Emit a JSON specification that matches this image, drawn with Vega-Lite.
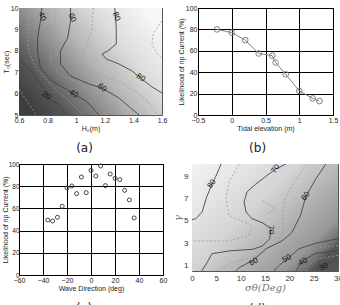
{
  "$schema": "https://vega.github.io/schema/vega-lite/v6.json",
  "padding": {"left": 0, "top": 3, "right": 0, "bottom": 0},
  "background": "white",
  "spacing": 5,
  "datasets": {
    "contA": [
      {"lev":10,"i":0,"h":0.6,"t":6.2},{"lev":10,"i":1,"h":0.66,"t":5.6},{"lev":10,"i":2,"h":0.72,"t":5.0},
      {"lev":20,"i":0,"h":0.6,"t":7.66},{"lev":20,"i":1,"h":0.69,"t":7.06},{"lev":20,"i":2,"h":0.76,"t":6.36},{"lev":20,"i":3,"h":0.79,"t":5.89},{"lev":20,"i":4,"h":0.87,"t":5.51},{"lev":20,"i":5,"h":0.94,"t":5.0},
      {"lev":30,"i":0,"h":0.67,"t":10},{"lev":30,"i":1,"h":0.66,"t":8.9},{"lev":30,"i":2,"h":0.67,"t":8.0},{"lev":30,"i":3,"h":0.71,"t":7.29},{"lev":30,"i":4,"h":0.81,"t":6.5},{"lev":30,"i":5,"h":0.91,"t":5.89},{"lev":30,"i":6,"h":1.05,"t":5.0},
      {"lev":40,"i":0,"h":0.76,"t":10},{"lev":40,"i":1,"h":0.75,"t":9.39},{"lev":40,"i":2,"h":0.73,"t":8.6},{"lev":40,"i":3,"h":0.73,"t":7.99},{"lev":40,"i":4,"h":0.75,"t":7.2},{"lev":40,"i":5,"h":0.83,"t":6.59},{"lev":40,"i":6,"h":0.93,"t":6.21},{"lev":40,"i":7,"h":0.98,"t":5.98},{"lev":40,"i":8,"h":1.07,"t":5.65},{"lev":40,"i":9,"h":1.16,"t":5.0},
      {"lev":50,"i":0,"h":0.86,"t":10},{"lev":50,"i":1,"h":0.84,"t":8.93},{"lev":50,"i":2,"h":0.82,"t":8.08},{"lev":50,"i":3,"h":0.82,"t":7.43},{"lev":50,"i":4,"h":0.88,"t":6.92},{"lev":50,"i":5,"h":1.01,"t":6.5},{"lev":50,"i":6,"h":1.12,"t":6.12},{"lev":50,"i":7,"h":1.23,"t":5.65},{"lev":50,"i":8,"h":1.31,"t":5.0},
      {"lev":60,"i":0,"h":0.96,"t":10},{"lev":60,"i":1,"h":0.96,"t":9.39},{"lev":60,"i":2,"h":0.94,"t":8.6},{"lev":60,"i":3,"h":0.89,"t":7.99},{"lev":60,"i":4,"h":0.89,"t":7.38},{"lev":60,"i":5,"h":0.96,"t":6.82},{"lev":60,"i":6,"h":1.09,"t":6.45},{"lev":60,"i":7,"h":1.18,"t":6.26},{"lev":60,"i":8,"h":1.30,"t":5.79},{"lev":60,"i":9,"h":1.38,"t":5.33},{"lev":60,"i":10,"h":1.44,"t":5.0},
      {"lev":70,"i":0,"h":1.12,"t":10},{"lev":70,"i":1,"h":1.11,"t":8.93},{"lev":70,"i":2,"h":1.07,"t":8.22},{"lev":70,"i":3,"h":1.04,"t":7.66},{"lev":70,"i":4,"h":1.05,"t":7.2},{"lev":70,"i":5,"h":1.16,"t":6.87},{"lev":70,"i":6,"h":1.29,"t":6.59},{"lev":70,"i":7,"h":1.39,"t":6.21},{"lev":70,"i":8,"h":1.50,"t":5.65},{"lev":70,"i":9,"h":1.57,"t":5.0},
      {"lev":80,"i":0,"h":1.27,"t":10},{"lev":80,"i":1,"h":1.28,"t":9.07},{"lev":80,"i":2,"h":1.28,"t":8.32},{"lev":80,"i":3,"h":1.22,"t":7.99},{"lev":80,"i":4,"h":1.18,"t":7.85},{"lev":80,"i":5,"h":1.21,"t":7.62},{"lev":80,"i":6,"h":1.30,"t":7.38},{"lev":80,"i":7,"h":1.39,"t":7.06},{"lev":80,"i":8,"h":1.45,"t":6.73},{"lev":80,"i":9,"h":1.53,"t":6.31},{"lev":80,"i":10,"h":1.6,"t":6.03},
      {"lev":90,"i":0,"h":1.6,"t":9.4},{"lev":90,"i":1,"h":1.54,"t":8.83},{"lev":90,"i":2,"h":1.53,"t":8.32},{"lev":90,"i":3,"h":1.56,"t":7.9},{"lev":90,"i":4,"h":1.6,"t":7.66}
    ],
    "labA": [
      {"lev":40,"h":0.76,"t":9.6},{"lev":60,"h":0.97,"t":9.55},{"lev":80,"h":1.28,"t":9.6},
      {"lev":20,"h":0.79,"t":5.89},{"lev":40,"h":0.98,"t":5.98},{"lev":60,"h":1.18,"t":6.26},{"lev":80,"h":1.45,"t":6.73}
    ],
    "contD": [
      {"lev":80,"i":0,"s":6.0,"g":10.1},{"lev":80,"i":1,"s":4.9,"g":9.0},{"lev":80,"i":2,"s":4.1,"g":8.3},{"lev":80,"i":3,"s":2.9,"g":7.0},{"lev":80,"i":4,"s":2.1,"g":5.8},{"lev":80,"i":5,"s":0.8,"g":5.2},{"lev":80,"i":6,"s":0,"g":5.1},
      {"lev":75,"i":0,"s":9.7,"g":10.1},{"lev":75,"i":1,"s":7.6,"g":8.5},{"lev":75,"i":2,"s":7.0,"g":7.0},{"lev":75,"i":3,"s":7.6,"g":5.5},{"lev":75,"i":4,"s":12.3,"g":4.6},{"lev":75,"i":5,"s":11.7,"g":3.7},{"lev":75,"i":6,"s":7.6,"g":3.2},{"lev":75,"i":7,"s":0,"g":3.2},
      {"lev":76,"i":0,"s":14.5,"g":6.8},{"lev":76,"i":1,"s":17.3,"g":6.1},{"lev":76,"i":2,"s":15.0,"g":5.5},
      {"lev":70,"i":0,"s":19.3,"g":10.1},{"lev":70,"i":1,"s":17.2,"g":9.65},{"lev":70,"i":2,"s":15.2,"g":9.0},{"lev":70,"i":3,"s":13.1,"g":8.3},{"lev":70,"i":4,"s":11.3,"g":7.6},{"lev":70,"i":5,"s":10.7,"g":6.7},{"lev":70,"i":6,"s":11.1,"g":5.8},{"lev":70,"i":7,"s":12.3,"g":5.2},{"lev":70,"i":8,"s":14.6,"g":4.8},{"lev":70,"i":9,"s":16.2,"g":4.3},{"lev":70,"i":10,"s":16.0,"g":3.4},{"lev":70,"i":11,"s":14.5,"g":2.75},{"lev":70,"i":12,"s":12.5,"g":2.45},{"lev":70,"i":13,"s":7.6,"g":2.3},{"lev":70,"i":14,"s":4.1,"g":2.05},{"lev":70,"i":15,"s":3.1,"g":1.25},{"lev":70,"i":16,"s":2.0,"g":0.5},
      {"lev":65,"i":0,"s":23.5,"g":10.1},{"lev":65,"i":1,"s":21,"g":8.5},{"lev":65,"i":2,"s":19.2,"g":7.0},{"lev":65,"i":3,"s":18.6,"g":5.5},{"lev":65,"i":4,"s":18.8,"g":4.2},{"lev":65,"i":5,"s":17.5,"g":3.0},{"lev":65,"i":6,"s":14,"g":2.0},{"lev":65,"i":7,"s":8,"g":1.2},{"lev":65,"i":8,"s":5,"g":0.5},
      {"lev":60,"i":0,"s":27.5,"g":10.1},{"lev":60,"i":1,"s":25.5,"g":8.8},{"lev":60,"i":2,"s":23.4,"g":7.2},{"lev":60,"i":3,"s":22.3,"g":5.5},{"lev":60,"i":4,"s":20.5,"g":3.94},{"lev":60,"i":5,"s":18.5,"g":3.2},{"lev":60,"i":6,"s":15.2,"g":2.5},{"lev":60,"i":7,"s":12.7,"g":1.5},{"lev":60,"i":8,"s":9.7,"g":0.8},{"lev":60,"i":9,"s":9.0,"g":0.5},
      {"lev":55,"i":0,"s":30,"g":5.0},{"lev":55,"i":1,"s":26,"g":4.0},{"lev":55,"i":2,"s":22,"g":3.2},{"lev":55,"i":3,"s":18,"g":2.2},{"lev":55,"i":4,"s":14.5,"g":1.0},{"lev":55,"i":5,"s":13.5,"g":0.5},
      {"lev":50,"i":0,"s":30,"g":3.4},{"lev":50,"i":1,"s":25.5,"g":3.0},{"lev":50,"i":2,"s":22,"g":2.5},{"lev":50,"i":3,"s":19.9,"g":1.7},{"lev":50,"i":4,"s":17.9,"g":1.0},{"lev":50,"i":5,"s":16.8,"g":0.5},
      {"lev":45,"i":0,"s":30,"g":2.8},{"lev":45,"i":1,"s":25,"g":2.5},{"lev":45,"i":2,"s":22,"g":1.8},{"lev":45,"i":3,"s":20,"g":0.9},{"lev":45,"i":4,"s":19,"g":0.5},
      {"lev":40,"i":0,"s":30,"g":2.3},{"lev":40,"i":1,"s":25.5,"g":2.1},{"lev":40,"i":2,"s":23.4,"g":1.6},{"lev":40,"i":3,"s":22,"g":1.0},{"lev":40,"i":4,"s":21.4,"g":0.5},
      {"lev":35,"i":0,"s":30,"g":1.9},{"lev":35,"i":1,"s":26,"g":1.6},{"lev":35,"i":2,"s":24,"g":1.0},{"lev":35,"i":3,"s":23.5,"g":0.5},
      {"lev":30,"i":0,"s":30,"g":1.6},{"lev":30,"i":1,"s":28.1,"g":1.25},{"lev":30,"i":2,"s":26,"g":0.7},{"lev":30,"i":3,"s":25.5,"g":0.5}
    ],
    "labD": [
      {"lev":80,"s":4.1,"g":8.3},{"lev":70,"s":17.2,"g":9.65},{"lev":60,"s":23.4,"g":7.2},
      {"lev":70,"s":16.3,"g":4.2},
      {"lev":60,"s":12.7,"g":1.3},{"lev":50,"s":19.5,"g":1.6},{"lev":40,"s":22.8,"g":1.3},{"lev":30,"s":27.1,"g":0.85}
    ]
  },
  "vconcat": [
    {
      "hconcat": [
        {
          "width": 143, "height": 107,
          "title": {"text": "(a)"},
          "view": {"stroke": "#555"},
          "encoding": {
            "x": {"field": "h", "type": "quantitative", "scale": {"domain": [0.6, 1.6], "nice": false, "zero": false}, "axis": {"values": [0.6, 0.8, 1, 1.2, 1.4, 1.6], "format": ".1~f", "title": "H₀(m)"}},
            "y": {"field": "t", "type": "quantitative", "scale": {"domain": [5, 10], "nice": false, "zero": false}, "axis": {"values": [5, 6, 7, 8, 9, 10], "format": ".1~f", "title": "T₀(sec)"}}
          },
          "layer": [
            {
              "data": {"values": [{"h": 0.6, "h2": 1.6, "t": 5, "t2": 10}]},
              "mark": {"type": "rect", "color": {"gradient": "linear", "x1": 0, "y1": 0.8, "x2": 1, "y2": 0.2, "stops": [
                {"offset": 0, "color": "#3e3e3e"}, {"offset": 0.155, "color": "#555555"}, {"offset": 0.35, "color": "#8c8c8c"}, {"offset": 0.5, "color": "#b2b2b2"}, {"offset": 0.73, "color": "#dddddd"}, {"offset": 0.93, "color": "#f0f0f0"}, {"offset": 1, "color": "#f6f6f6"}]}},
              "encoding": {"x2": {"field": "h2"}, "y2": {"field": "t2"}}
            },
            {
              "data": {"name": "contA"},
              "transform": [{"filter": "datum.lev % 20 != 0"}],
              "mark": {"type": "line", "color": "#9a9a9a", "strokeWidth": 0.8, "strokeDash": [2, 2], "clip": true},
              "encoding": {"detail": {"field": "lev"}, "order": {"field": "i"}}
            },
            {
              "data": {"name": "contA"},
              "transform": [{"filter": "datum.lev % 20 == 0"}],
              "mark": {"type": "line", "color": "#444", "strokeWidth": 0.9, "clip": true},
              "encoding": {"detail": {"field": "lev"}, "order": {"field": "i"}}
            },
            {
              "data": {"name": "labA"},
              "transform": [{"filter": "datum.t > 9"}],
              "mark": {"type": "text", "fontSize": 8, "angle": 70, "color": "#111"},
              "encoding": {"text": {"field": "lev"}}
            },
            {
              "data": {"name": "labA"},
              "transform": [{"filter": "datum.t <= 9"}],
              "mark": {"type": "text", "fontSize": 8, "angle": 35, "color": "#111"},
              "encoding": {"text": {"field": "lev"}}
            }
          ]
        },
        {
          "width": 135, "height": 107,
          "title": {"text": "(b)"},
          "data": {"values": [
            {"e": -0.22, "p": 80}, {"e": 0.0, "p": 77}, {"e": 0.2, "p": 70}, {"e": 0.4, "p": 57.5}, {"e": 0.6, "p": 55.5},
            {"e": 0.65, "p": 49}, {"e": 0.8, "p": 38}, {"e": 1.0, "p": 22.5}, {"e": 1.2, "p": 15.5}, {"e": 1.3, "p": 13}
          ]},
          "encoding": {
            "x": {"field": "e", "type": "quantitative", "scale": {"domain": [-0.5, 1.5], "nice": false, "zero": false}, "axis": {"values": [-0.5, 0, 0.5, 1, 1.5], "format": ".1~f", "grid": true, "gridColor": "#000", "gridOpacity": 1, "title": "Tidal elevation (m)"}},
            "y": {"field": "p", "type": "quantitative", "scale": {"domain": [0, 100], "nice": false}, "axis": {"values": [0, 20, 40, 60, 80, 100], "grid": true, "gridColor": "#000", "gridOpacity": 1, "title": "Likelihood of rip Current (%)"}}
          },
          "layer": [
            {"mark": {"type": "line", "color": "#808080", "strokeWidth": 1}},
            {"mark": {"type": "point", "filled": false, "color": "#808080", "size": 32, "strokeWidth": 1, "opacity": 1}}
          ]
        }
      ],
      "spacing": 36,
      "bounds": "flush"
    },
    {
      "hconcat": [
        {
          "width": 144, "height": 111,
          "title": {"text": "(c)"},
          "data": {"values": [
            {"d": -36, "p": 49.5}, {"d": -32, "p": 48.6}, {"d": -28, "p": 52}, {"d": -24, "p": 61.9}, {"d": -20, "p": 78.4},
            {"d": -16, "p": 80.2}, {"d": -12, "p": 73.3}, {"d": -8, "p": 88.3}, {"d": -4, "p": 74.2}, {"d": 0, "p": 94.3},
            {"d": 4, "p": 89.2}, {"d": 8, "p": 98.2}, {"d": 12, "p": 80.5}, {"d": 16, "p": 91}, {"d": 20, "p": 87.1},
            {"d": 24, "p": 85.9}, {"d": 28, "p": 76.3}, {"d": 32, "p": 67.6}, {"d": 36, "p": 51.4}
          ]},
          "mark": {"type": "point", "filled": false, "color": "#444", "size": 16, "strokeWidth": 1, "opacity": 1},
          "encoding": {
            "x": {"field": "d", "type": "quantitative", "scale": {"domain": [-60, 60], "nice": false, "zero": false}, "axis": {"values": [-60, -40, -20, 0, 20, 40, 60], "grid": true, "gridColor": "#000", "gridOpacity": 1, "title": "Wave Direction (deg)"}},
            "y": {"field": "p", "type": "quantitative", "scale": {"domain": [0, 100], "nice": false}, "axis": {"values": [0, 20, 40, 60, 80, 100], "grid": true, "gridColor": "#000", "gridOpacity": 1, "title": "Likelihood of rip Current (%)", "labelPadding": 0, "titlePadding": 0, "labelFontSize": 6.5}}
          }
        },
        {
          "width": 146, "height": 107,
          "title": {"text": "(d)"},
          "view": {"stroke": "#555"},
          "encoding": {
            "x": {"field": "s", "type": "quantitative", "scale": {"domain": [0, 30], "nice": false, "zero": false}, "axis": {"values": [0, 5, 10, 15, 20, 25, 30], "labelFontSize": 8, "labelColor": "#333", "labelPadding": 3, "title": "σθ(Deg)", "titleFont": "DejaVu Serif", "titleFontStyle": "italic", "titleFontSize": 10, "titleColor": "#777", "titlePadding": 0}},
            "y": {"field": "g", "type": "quantitative", "scale": {"domain": [0.5, 10.1], "nice": false, "zero": false}, "axis": {"values": [1, 3, 5, 7, 9], "labelFontSize": 8, "labelColor": "#333", "labelPadding": 4, "title": "γ", "titleFont": "DejaVu Serif", "titleFontStyle": "italic", "titleFontSize": 10, "titleColor": "#777"}}
          },
          "layer": [
            {
              "data": {"values": [{"s": 0, "s2": 30, "g": 0.5, "g2": 10.1}]},
              "mark": {"type": "rect", "color": {"gradient": "linear", "x1": 0, "y1": 0, "x2": 1, "y2": 0.75, "stops": [
                {"offset": 0, "color": "#f2f2f2"}, {"offset": 0.2, "color": "#e8e8e8"}, {"offset": 0.48, "color": "#d2d2d2"}, {"offset": 0.65, "color": "#b8b8b8"}, {"offset": 0.88, "color": "#989898"}, {"offset": 0.96, "color": "#757575"}, {"offset": 1, "color": "#555555"}]}},
              "encoding": {"x2": {"field": "s2"}, "y2": {"field": "g2"}}
            },
            {
              "data": {"name": "contD"},
              "transform": [{"filter": "datum.lev % 10 != 0"}],
              "mark": {"type": "line", "color": "#9a9a9a", "strokeWidth": 0.8, "strokeDash": [2, 2], "clip": true},
              "encoding": {"detail": {"field": "lev"}, "order": {"field": "i"}}
            },
            {
              "data": {"name": "contD"},
              "transform": [{"filter": "datum.lev % 10 == 0"}],
              "mark": {"type": "line", "color": "#444", "strokeWidth": 0.9, "clip": true},
              "encoding": {"detail": {"field": "lev"}, "order": {"field": "i"}}
            },
            {
              "data": {"name": "labD"},
              "transform": [{"filter": "datum.g > 6"}],
              "mark": {"type": "text", "fontSize": 8, "angle": -55, "color": "#111"},
              "encoding": {"text": {"field": "lev"}}
            },
            {
              "data": {"name": "labD"},
              "transform": [{"filter": "datum.g > 3 && datum.g <= 6"}],
              "mark": {"type": "text", "fontSize": 8, "angle": 90, "color": "#111"},
              "encoding": {"text": {"field": "lev"}}
            },
            {
              "data": {"name": "labD"},
              "transform": [{"filter": "datum.g <= 3"}],
              "mark": {"type": "text", "fontSize": 8, "angle": -30, "color": "#111"},
              "encoding": {"text": {"field": "lev"}}
            }
          ]
        }
      ],
      "spacing": 29,
      "bounds": "flush"
    }
  ],
  "config": {
    "font": "Liberation Sans",
    "view": {"stroke": "#000", "strokeWidth": 1},
    "axis": {"ticks": false, "domain": false, "grid": false, "labelFontSize": 7, "titleFontSize": 7, "titleFontWeight": "normal", "labelColor": "#222", "titleColor": "#222", "labelPadding": 1, "titlePadding": 1, "labelFlush": false, "labelOverlap": false, "labelFont": "Liberation Sans", "titleFont": "Liberation Sans"},
    "title": {"fontSize": 12, "fontWeight": "normal", "orient": "bottom", "frame": "bounds", "offset": 12, "color": "#222", "anchor": "middle", "font": "DejaVu Sans"}
  }
}
